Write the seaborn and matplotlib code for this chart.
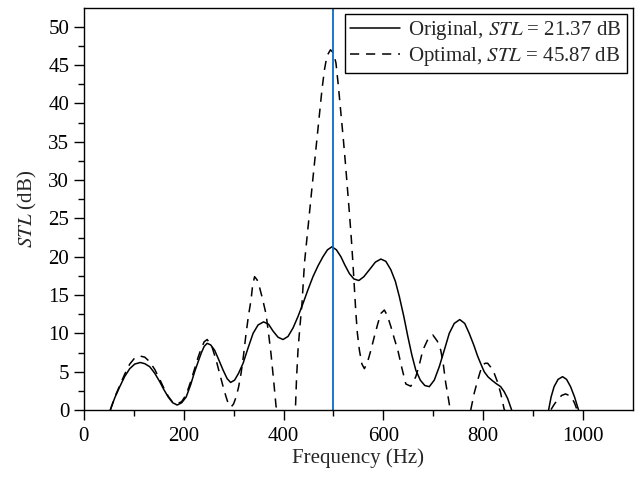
import numpy as np
import pandas as pd
import matplotlib
matplotlib.use('Agg')
import matplotlib.pyplot as plt
import seaborn as sns

# Original design (solid)
freq_orig = [53, 62, 72, 82, 92, 102, 113, 122, 132, 142, 152, 160, 169, 178, 187, 196,
             205, 214, 222, 229, 235, 241, 247, 254, 262, 270, 279, 287, 294, 302, 310,
             319, 329, 339, 349, 360, 370, 379, 389, 399, 409, 419, 429, 439, 449, 459,
             469, 479, 488, 497, 506, 515, 523, 532, 541, 551, 561, 572, 584, 595, 605,
             615, 624, 632, 641, 649, 657, 665, 674, 683, 692, 702, 712, 722, 732, 742,
             753, 763, 772, 781, 789, 796, 802, 810, 819, 827, 835, 842, 849, 857, 875,
             894, 915, 931, 936, 942, 950, 959, 967, 975, 983, 991]
stl_orig = [0.0, 1.6, 3.05, 4.4, 5.4, 6.0, 6.2, 6.05, 5.65, 4.8, 3.7, 2.7, 1.7, 0.95, 0.65, 0.95,
            1.7, 3.3, 5.0, 6.3, 7.4, 8.3, 8.7, 8.5, 7.8, 6.6, 5.2, 4.1, 3.6, 3.9, 4.8,
            6.1, 8.1, 10.0, 11.1, 11.5, 11.2, 10.3, 9.5, 9.2, 9.6, 10.7, 12.2, 13.9, 15.7, 17.4,
            18.8, 20.0, 20.9, 21.3, 20.9, 20.0, 18.9, 17.8, 17.1, 16.9, 17.4, 18.3, 19.3, 19.7, 19.4,
            18.3, 16.8, 14.8, 12.2, 9.6, 7.2, 5.2, 3.9, 3.2, 3.05, 3.9, 5.65, 7.8, 10.0, 11.3,
            11.8, 11.3, 10.0, 8.5, 7.0, 5.9, 5.0, 4.3, 3.8, 3.4, 3.05, 2.4, 1.5, 0.0, -3.0,
            -5.0, -3.0, 0.0, 1.7, 3.05, 4.0, 4.35, 4.0, 3.05, 1.7, 0.0]

# Optimal design (dashed)
freq_opt = [53, 62, 72, 82, 92, 102, 112, 122, 132, 142, 152, 160, 169, 178, 187, 196,
            205, 214, 222, 229, 235, 241, 247, 256, 265, 272, 279, 285, 289, 295, 300,
            305, 310, 315, 320, 325, 330, 335, 338, 342, 347, 352, 358, 365, 370, 375,
            380, 385, 405, 424, 426, 429, 433, 437, 442, 447, 452, 457, 462, 467, 472,
            477, 482, 487, 494, 500, 505, 510, 515, 520, 524, 528, 532, 536, 539, 542,
            545, 548, 552, 557, 562, 568, 575, 582, 589, 595, 602, 608, 615, 622, 629,
            637, 645, 655, 665, 672, 679, 689, 699, 708, 715, 720, 725, 729, 733, 754,
            775, 782, 789, 794, 799, 804, 809, 815, 822, 829, 835, 839, 842, 890, 939,
            944, 949, 957, 965, 972, 979, 983, 987]
stl_opt = [0.0, 1.7, 3.2, 4.7, 6.0, 6.8, 7.05, 6.9, 6.3, 5.3, 4.0, 2.9, 1.8, 1.0, 0.8, 1.1,
           2.0, 3.7, 5.4, 6.9, 8.0, 8.9, 9.2, 8.4, 6.5, 4.8, 3.05, 1.7, 0.9, 0.4, 0.8,
           1.7, 3.0, 4.8, 7.2, 10.0, 12.4, 14.4, 16.2, 17.4, 17.0, 16.0, 14.5, 12.5, 10.0, 7.3,
           4.0, 0.5, -4.0, 0.4, 4.0, 7.8, 11.0, 13.9, 19.2, 22.5, 25.7, 29.0, 32.2, 35.5, 38.7,
           41.8, 44.4, 46.2, 47.0, 46.6, 45.3, 42.2, 38.7, 35.2, 32.2, 29.0, 25.7, 22.2, 19.2, 15.8,
           12.6, 10.0, 7.8, 6.0, 5.4, 6.2, 7.8, 9.6, 11.3, 12.6, 13.05, 12.3, 10.9, 9.3, 7.8,
           5.5, 3.4, 3.1, 4.35, 5.9, 7.8, 9.2, 9.8, 9.0, 7.8, 6.0, 3.5, 2.0, 0.4, -3.0,
           0.0, 2.2, 3.9, 5.0, 5.9, 6.1, 6.1, 5.6, 4.8, 3.6, 2.2, 1.0, 0.1, -5.0, 0.4,
           0.9, 1.3, 1.9, 2.1, 1.9, 1.4, 0.9, 0.2]

x_ticks = [0, 200, 400, 600, 800, 1000]
y_ticks = [0, 5, 10, 15, 20, 25, 30, 35, 40, 45, 50]
f_design = 500

df_orig = pd.DataFrame({'Frequency': freq_orig, 'STL': stl_orig})
df_opt = pd.DataFrame({'Frequency': freq_opt, 'STL': stl_opt})

sns.set_style('ticks')
plt.rcParams['font.family'] = ['Liberation Serif', 'DejaVu Serif']
plt.rcParams['mathtext.fontset'] = 'stix'
plt.rcParams['font.size'] = 15

fig = plt.figure(figsize=(6.4, 4.79), dpi=100)
ax = fig.add_axes([0.131, 0.144, 0.858, 0.84])

sns.lineplot(data=df_orig, x='Frequency', y='STL', ax=ax, sort=False, estimator=None,
             color='black', lw=1.1, label='Original, $STL$ = 21.37 dB')
sns.lineplot(data=df_opt, x='Frequency', y='STL', ax=ax, sort=False, estimator=None,
             color='black', lw=1.1, linestyle=(0, (6, 4.5)),
             label='Optimal, $STL$ = 45.87 dB')
ax.axvline(f_design, color='#0a6cc4', lw=1.3)

ax.set_xlim(0, 1100)
ax.set_ylim(0, 52.5)
ax.set_xticks(x_ticks)
ax.set_yticks(y_ticks)
ax.set_xticks(np.arange(100, 1100, 200), minor=True)
ax.set_yticks(np.arange(2.5, 52.5, 5), minor=True)
ax.tick_params(which='major', direction='out', length=7, width=1, colors='black', labelsize=15)
ax.tick_params(axis='x', which='major', pad=5)
ax.tick_params(which='minor', direction='out', length=4, width=1, colors='black')
for sp in ax.spines.values():
    sp.set_visible(True)
    sp.set_color('black')
    sp.set_linewidth(1.0)

ax.set_xlabel('Frequency (Hz)', fontsize=15, labelpad=2)
ax.set_ylabel('$STL$ (dB)', fontsize=15, labelpad=7)

leg = ax.legend(loc='upper right', fontsize=15, frameon=True, fancybox=False,
                framealpha=1, edgecolor='black', handlelength=2.4, borderaxespad=0.3,
                borderpad=0.25, labelspacing=0.15, handletextpad=0.4)
leg.get_frame().set_linewidth(1.0)

fig.savefig('out.png', dpi=100)
